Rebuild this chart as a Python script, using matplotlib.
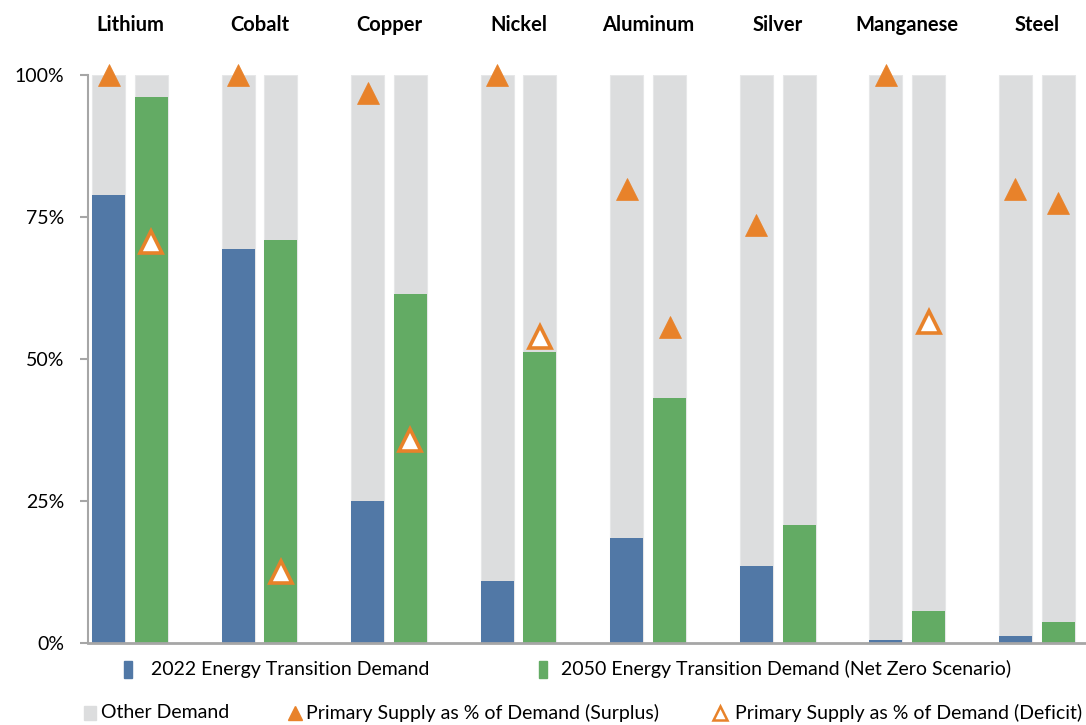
import matplotlib.pyplot as plt
import matplotlib.transforms as mtransforms
import numpy as np
from matplotlib.lines import Line2D
from matplotlib.patches import Rectangle

plt.rcParams['font.family'] = ['Lato', 'DejaVu Sans']

metals = ["Lithium", "Cobalt", "Copper", "Nickel", "Aluminum", "Silver", "Manganese", "Steel"]
demand_2022 = [78.9, 69.4, 25.0, 10.9, 18.5, 13.6, 0.5, 1.3]
demand_2050 = [96.1, 71.0, 61.4, 51.2, 43.1, 20.8, 5.6, 3.7]
# primary supply as % of demand; None where no marker is shown
supply_2022 = [100.0, 100.0, 96.8, 100.0, 79.9, 73.6, 100.0, 80.0]
supply_2050 = [70.6, 12.5, 35.7, 53.9, 55.6, None, 56.5, 77.5]
deficit_2022 = [False] * 8
deficit_2050 = [True, True, True, True, False, None, True, False]

blue = "#5178A6"
green = "#63AB64"
grey = "#DCDDDE"
orange = "#E8822A"

W, H = 1086, 725

def fx(px):
    return px / W

def fy(py):
    return 1 - py / H

fig = plt.figure(figsize=(W / 100, H / 100), dpi=100)
ax = fig.add_axes([fx(88), fy(643), 1 - fx(88), (643 - 75) / H])

x = np.arange(len(metals))
off = 0.165
w = 0.255

ax.bar(x - off, [100] * len(x), w, color=grey, edgecolor="#E6E7E8", linewidth=0.8, zorder=1)
ax.bar(x + off, [100] * len(x), w, color=grey, edgecolor="#E6E7E8", linewidth=0.8, zorder=1)
ax.bar(x - off, demand_2022, w, color=blue, zorder=2)
ax.bar(x + off, demand_2050, w, color=green, zorder=2)

ms = 15.5
for xs, vals, flags in [(x - off, supply_2022, deficit_2022), (x + off, supply_2050, deficit_2050)]:
    for xi, v, d in zip(xs, vals, flags):
        if v is None:
            continue
        if d:
            ax.plot(xi, v, marker="^", ms=ms, mfc="white", mec=orange, mew=2.6,
                    ls="none", clip_on=False, zorder=4)
        else:
            ax.plot(xi, v, marker="^", ms=ms, mfc=orange, mec=orange, mew=0.5,
                    ls="none", clip_on=False, zorder=4)

# metal names above each pair of bars
title_tr = mtransforms.blended_transform_factory(ax.transData, fig.transFigure)
for xi, name in zip(x, metals):
    ax.text(xi, fy(25), name, transform=title_tr, ha="center", va="center",
            fontsize=14.5, fontweight="bold")

ax.set_xlim(-0.324, 7.38)
ax.set_ylim(0, 100)
ax.set_yticks([0, 25, 50, 75, 100])
ax.set_yticklabels(["0%", "25%", "50%", "75%", "100%"], fontsize=14)
ax.set_xticks([])
ax.tick_params(axis="y", direction="out", length=6, width=1.5, color="#A6A6A6", pad=11)
for s in ["top", "right"]:
    ax.spines[s].set_visible(False)
ax.spines["left"].set_color("#A6A6A6")
ax.spines["left"].set_linewidth(1.5)
ax.spines["bottom"].set_color("#A6A6A6")
ax.spines["bottom"].set_linewidth(2)
ax.spines["bottom"].set_zorder(3)

# legend entries
legend_fs = 14
fig.patches.append(Rectangle((fx(124), fy(678)), 8 / W, 17 / H, color=blue, transform=fig.transFigure))
fig.text(fx(151), fy(669), "2022 Energy Transition Demand", va="center", fontsize=legend_fs)
fig.patches.append(Rectangle((fx(539), fy(678)), 8 / W, 17 / H, color=green, transform=fig.transFigure))
fig.text(fx(561), fy(669), "2050 Energy Transition Demand (Net Zero Scenario)", va="center", fontsize=legend_fs)
fig.patches.append(Rectangle((fx(84), fy(720)), 12 / W, 14 / H, color=grey, transform=fig.transFigure))
fig.text(fx(101), fy(713), "Other Demand", va="center", fontsize=legend_fs)
fig.lines.append(Line2D([fx(295)], [fy(713)], marker="^", ms=10, mfc=orange, mec=orange,
                        transform=fig.transFigure))
fig.text(fx(306), fy(713), "Primary Supply as % of Demand (Surplus)", va="center", fontsize=legend_fs)
fig.lines.append(Line2D([fx(720)], [fy(713)], marker="^", ms=10, mfc="white", mec=orange, mew=1.8,
                        transform=fig.transFigure))
fig.text(fx(735), fy(713), "Primary Supply as % of Demand (Deficit)", va="center", fontsize=legend_fs)

fig.savefig("out.png", dpi=100)
